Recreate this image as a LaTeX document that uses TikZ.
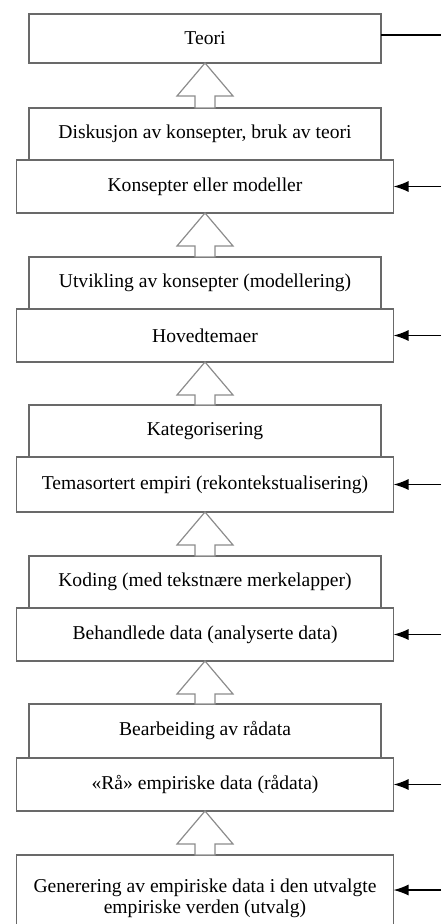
\documentclass[tikz,border=0pt]{standalone}
\usepackage{fontspec}
\setmainfont{Liberation Serif}
\usetikzlibrary{positioning, calc, arrows.meta}

\definecolor{boxgray}{RGB}{105,105,105}
\definecolor{uparrowgray}{RGB}{140,140,140}

\tikzset{
    stage/.style={draw=boxgray, line width=0.6pt, rectangle, align=center,
        font=\fontsize{9.8pt}{10.5pt}\selectfont, inner sep=2pt, outer sep=0pt},
    narrow/.style={stage, minimum width=176pt, minimum height=26pt},
    wide/.style={stage, minimum width=188.5pt, minimum height=26.5pt},
    hollowup/.style={draw=uparrowgray, line width=0.6pt, fill=white},
    feed/.style={draw=black, line width=0.7pt, -{Latex[length=7.5pt,width=5.5pt]}},
    feedline/.style={draw=black, line width=0.7pt},
}

\begin{document}
\begin{tikzpicture}
\useasboundingbox (0,0) rectangle (220.5pt,-462pt);
\clip (0,0) rectangle (220.5pt,-462pt);

\node[narrow, minimum height=24.5pt] (teori) at (102.5pt,-19.25pt) {Teori};

\node[narrow, below=22.5pt of teori] (disk) {Diskusjon av konsepter, bruk av teori};
\node[wide, below=0pt of disk] (kons) {Konsepter eller modeller};

\node[narrow, below=22pt of kons] (utv) {Utvikling av konsepter (modellering)};
\node[wide, below=0pt of utv] (hoved) {Hovedtemaer};

\node[narrow, below=21.5pt of hoved] (kat) {Kategorisering};
\node[wide, below=0pt of kat, minimum height=27.5pt] (tema) {Temasortert empiri (rekontekstualisering)};

\node[narrow, below=22pt of tema] (kod) {Koding (med tekstnære merkelapper)};
\node[wide, below=0pt of kod] (beh) {Behandlede data (analyserte data)};

\node[narrow, below=21.5pt of beh, minimum height=27pt] (bear) {Bearbeiding av rådata};
\node[wide, below=0pt of bear] (raa) {«Rå» empiriske data (rådata)};

\node[wide, below=22pt of raa, minimum height=43pt] (gen)
    {Generering av empiriske data i den utvalgte\\empiriske verden (utvalg)};

% hollow arrows between the stages
\foreach \top/\bot in {teori/disk, kons/utv, hoved/kat, tema/kod, beh/bear, raa/gen} {
    \draw[hollowup]
        (\top.south) -- ($(\top.south)+(14pt,-16.5pt)$)
        -- ($(\top.south)+(5pt,-16.5pt)$) -- ($(\bot.north)+(5pt,0)$)
        -- ($(\bot.north)+(-5pt,0)$) -- ($(\top.south)+(-5pt,-16.5pt)$)
        -- ($(\top.south)+(-14pt,-16.5pt)$) -- cycle;
}

% lines from the right edge
\coordinate (edge) at (220.5pt,0);
\coordinate (teori-out) at ($(teori.east)+(0,1.75pt)$);
\coordinate (teori-r) at (teori-out -| edge);
\coordinate (gen-in) at ($(gen.east)+(0,4pt)$);
\coordinate (gen-r) at (gen-in -| edge);

\draw[feedline] (teori-out) -- (teori-r);
\foreach \n in {kons, hoved, tema, beh, raa} {
    \coordinate (\n-r) at (\n.east -| edge);
    \draw[feed] (\n-r) -- (\n.east);
}
\draw[feed] (gen-r) -- (gen-in);
\end{tikzpicture}
\end{document}
